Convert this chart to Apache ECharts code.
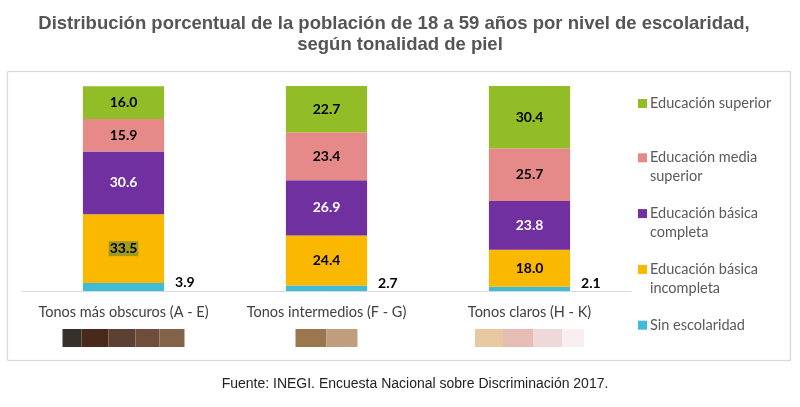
<!DOCTYPE html>
<html>
<head>
<meta charset="utf-8">
<script src="https://cdn.jsdelivr.net/npm/echarts@6/dist/echarts.min.js"></script>
<style>
  html, body { margin: 0; padding: 0; background: #fff; }
  #chart { width: 800px; height: 407px; }
</style>
</head>
<body>
<div id="chart"></div>
<script>
// categorias (tonalidad de piel)
var categories = ['Tonos más obscuros (A - E)', 'Tonos intermedios (F - G)', 'Tonos claros (H - K)'];

// porcentajes por nivel de escolaridad
var sinEscolaridad = [3.9, 2.7, 2.1];
var basicaIncompleta = [33.5, 24.4, 18.0];
var basicaCompleta = [30.6, 26.9, 23.8];
var mediaSuperior = [15.9, 23.4, 25.7];
var superior = [16.0, 22.7, 30.4];

// nombres de la leyenda (primera y segunda linea)
var legendNames = ['Educación superior', 'Educación media superior', 'Educación básica completa', 'Educación básica incompleta', 'Sin escolaridad'];
var legendLines = {
  'Educación superior': ['Educación superior', ''],
  'Educación media superior': ['Educación media', 'superior'],
  'Educación básica completa': ['Educación básica', 'completa'],
  'Educación básica incompleta': ['Educación básica', 'incompleta'],
  'Sin escolaridad': ['Sin escolaridad', '']
};

// muestras de color de piel bajo cada categoria
var swatchColors = [
  ['#36302a', '#48291a', '#5b4033', '#6f4d3c', '#826349'],
  ['#9b7750', '#bf9d7d'],
  ['#e7c8a0', '#e6bdb5', '#f0d7d8', '#f9eef0']
];
var swatchWidths = [
  [19, 27, 27, 24, 25],
  [31, 31],
  [28, 30, 29, 22]
];

var colors = {
  'Educación superior': '#93bd26',
  'Educación media superior': '#e58a89',
  'Educación básica completa': '#7030a0',
  'Educación básica incompleta': '#fab900',
  'Sin escolaridad': '#41bcd8'
};

var labelFont = 'Lato, "Open Sans", sans-serif';
var titleFont = '"Liberation Sans", Arial, sans-serif';

// estilos rich para las muestras de piel
var axisRich = {
  t: { fontFamily: labelFont, fontSize: 14.5, color: '#404040', lineHeight: 18 }
};
swatchColors.forEach(function (group, i) {
  group.forEach(function (c, j) {
    axisRich['g' + i + '_' + j] = { width: swatchWidths[i][j], height: 18, lineHeight: 34, backgroundColor: c };
  });
});

// estilos rich para la leyenda
var legendRich = {
  t: { fontFamily: labelFont, fontSize: 14.5, color: '#595959', lineHeight: 19, padding: [0, 0, 0, 3] },
  pad: { width: 9, lineHeight: 19 }
};
legendNames.forEach(function (n, i) {
  legendRich['s' + i] = { width: 9, height: 9, backgroundColor: colors[n] };
});

function oneDecimal(p) {
  return Number(p.value).toFixed(1);
}

var innerLabel = {
  show: true,
  position: 'inside',
  fontFamily: labelFont,
  fontWeight: 'bold',
  fontSize: 14,
  color: '#000',
  formatter: oneDecimal
};

function barSeries(name, data, label) {
  return {
    name: name,
    type: 'bar',
    stack: 'total',
    barWidth: '40%',
    data: data,
    itemStyle: { color: colors[name] },
    label: label,
    emphasis: { disabled: true }
  };
}

// 33.5 aparece resaltado en el original
var incompletaData = basicaIncompleta.map(function (v, i) {
  if (i === 0) {
    return { value: v, label: { backgroundColor: '#a09b1f', padding: [1, 1, 0, 1] } };
  }
  return v;
});

var myChart = echarts.init(document.getElementById('chart'));
var option = {
  animation: false,
  title: [
    {
      text: 'Distribución porcentual de la población de 18 a 59 años por nivel de escolaridad,',
      left: 394, top: 14, textAlign: 'center', padding: 0,
      textStyle: { fontFamily: titleFont, fontSize: 18.5, fontWeight: 'bold', color: '#555555' }
    },
    {
      text: 'según tonalidad de piel',
      left: 400, top: 35, textAlign: 'center', padding: 0,
      textStyle: { fontFamily: titleFont, fontSize: 18.5, fontWeight: 'bold', color: '#555555' }
    },
    {
      text: 'Fuente: INEGI. Encuesta Nacional sobre Discriminación 2017.',
      left: 415, top: 377, textAlign: 'center', padding: 0,
      textStyle: { fontFamily: titleFont, fontSize: 14, fontWeight: 'normal', color: '#222222' }
    }
  ],
  graphic: [
    {
      type: 'rect',
      shape: { x: 7.5, y: 71.5, width: 783, height: 289 },
      style: { fill: 'none', stroke: '#d9d9d9', lineWidth: 1, shadowBlur: 2, shadowColor: 'rgba(0,0,0,0.12)' },
      silent: true, z: -1
    }
  ],
  legend: {
    orient: 'vertical',
    left: 628,
    top: 91,
    itemGap: 21.8,
    itemWidth: 0,
    itemHeight: 0,
    selectedMode: false,
    data: legendNames,
    formatter: function (name) {
      var idx = legendNames.indexOf(name);
      var l = legendLines[name];
      var s = '{s' + idx + '|}{t|' + l[0] + '}\n{pad|}';
      if (l[1]) s += '{t|' + l[1] + '}';
      return s;
    },
    textStyle: { rich: legendRich }
  },
  grid: { left: 22, right: 169, top: 86, bottom: 116 },
  xAxis: {
    type: 'category',
    data: categories,
    axisLine: { lineStyle: { color: '#d9d9d9', width: 1 } },
    axisTick: { show: false },
    axisLabel: {
      margin: 12,
      interval: 0,
      formatter: function (value, idx) {
        var sw = swatchColors[idx].map(function (c, j) { return '{g' + idx + '_' + j + '|}'; }).join('');
        return '{t|' + value + '}\n' + sw;
      },
      rich: axisRich
    }
  },
  yAxis: { type: 'value', min: 0, max: 100, show: false, splitLine: { show: false } },
  series: [
    barSeries('Sin escolaridad', sinEscolaridad, {
      show: true, position: 'right', distance: 11, offset: [0, -5],
      fontFamily: labelFont, fontWeight: 'bold', fontSize: 14, color: '#000',
      formatter: oneDecimal
    }),
    barSeries('Educación básica incompleta', incompletaData, innerLabel),
    barSeries('Educación básica completa', basicaCompleta, Object.assign({}, innerLabel, { color: '#fff' })),
    barSeries('Educación media superior', mediaSuperior, innerLabel),
    barSeries('Educación superior', superior, innerLabel)
  ]
};
myChart.setOption(option);
</script>
</body>
</html>
